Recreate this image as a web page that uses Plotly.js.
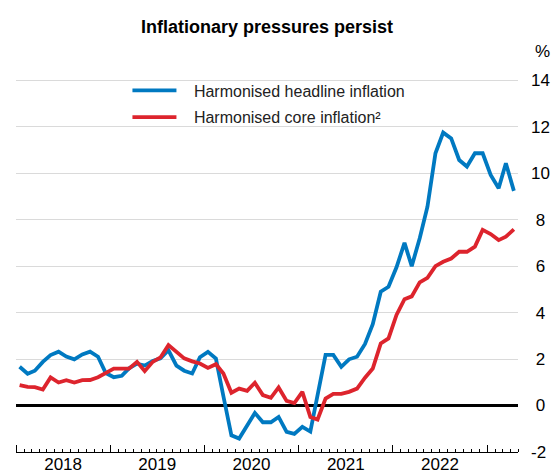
<!DOCTYPE html>
<html>
<head>
<meta charset="utf-8">
<script src="https://cdn.plot.ly/plotly-3.0.1.min.js"></script>
<style>
html,body{margin:0;padding:0;background:#fff;}
#chart{width:554px;height:473px;}
</style>
</head>
<body>
<div id="chart"></div>
<script>
// Monthly observations, Jan 2018 - Apr 2023
const months = [
 '2018-01','2018-02','2018-03','2018-04','2018-05','2018-06','2018-07','2018-08','2018-09','2018-10','2018-11','2018-12',
 '2019-01','2019-02','2019-03','2019-04','2019-05','2019-06','2019-07','2019-08','2019-09','2019-10','2019-11','2019-12',
 '2020-01','2020-02','2020-03','2020-04','2020-05','2020-06','2020-07','2020-08','2020-09','2020-10','2020-11','2020-12',
 '2021-01','2021-02','2021-03','2021-04','2021-05','2021-06','2021-07','2021-08','2021-09','2021-10','2021-11','2021-12',
 '2022-01','2022-02','2022-03','2022-04','2022-05','2022-06','2022-07','2022-08','2022-09','2022-10','2022-11','2022-12',
 '2023-01','2023-02','2023-03','2023-04'
];

const headline = [
 1.67,1.37,1.50,1.88,2.17,2.32,2.11,1.99,2.20,2.32,2.10,1.40,
 1.22,1.28,1.60,1.80,1.72,1.92,2.03,2.38,1.72,1.50,1.38,2.08,
 2.31,2.02,0.40,-1.28,-1.42,-0.85,-0.32,-0.72,-0.72,-0.49,-1.13,-1.22,
 -0.92,-1.12,0.55,2.18,2.18,1.67,1.99,2.10,2.65,3.50,4.90,5.11,
 5.95,7.00,6.00,7.20,8.56,10.86,11.75,11.50,10.57,10.29,10.86,10.86,
 9.93,9.35,10.43,9.24
];

const core = [
 0.88,0.80,0.79,0.69,1.21,0.99,1.09,0.99,1.09,1.10,1.22,1.38,
 1.59,1.59,1.59,1.88,1.48,1.88,2.07,2.60,2.31,2.03,1.90,1.81,
 1.62,1.78,1.38,0.55,0.73,0.63,0.98,0.45,0.33,0.78,0.20,0.11,
 0.59,-0.49,-0.60,0.30,0.50,0.50,0.59,0.73,1.20,1.59,2.67,2.89,
 3.90,4.58,4.70,5.30,5.50,6.00,6.19,6.33,6.62,6.62,6.84,7.56,
 7.38,7.12,7.27,7.58
];

const seriesNames = ['Harmonised headline inflation', 'Harmonised core inflation\u00b2'];
const yTickVals = [-2,0,2,4,6,8,10,12,14];
const yTickText = ['-2','\u20080','\u20082','\u20084','\u20086','\u20088','10','12','14'];

const dates = months.map(m => m + '-15');
const FONT = 'Arial, "Liberation Sans", sans-serif';
const GAP = '\u2002\u2008';

const traces = [
  {x: dates, y: headline, name: GAP + seriesNames[0], legendgroup: 'a', type: 'scatter', mode: 'lines',
   line: {color: 'rgb(0,121,193)', width: 3.8}},
  {x: dates, y: core, name: GAP + seriesNames[1], legendgroup: 'b', type: 'scatter', mode: 'lines',
   line: {color: 'rgb(221,36,45)', width: 3.8}}
];

const layout = {
  width: 554, height: 473,
  margin: {l: 16, r: 36, t: 78, b: 21, pad: 0},
  paper_bgcolor: '#fff', plot_bgcolor: '#fff',
  font: {family: FONT, size: 17, color: '#000'},
  title: {text: '<b>Inflationary pressures persist</b>', font: {family: FONT, size: 18, color: '#000'},
          xref: 'paper', x: 0.5, xanchor: 'center', yref: 'container', y: 0.943, yanchor: 'middle'},
  showlegend: true,
  legend: {x: 0.222, xanchor: 'left', y: 1.012, yanchor: 'top', bgcolor: 'rgba(0,0,0,0)',
           font: {family: FONT, size: 16, color: '#222'}, itemwidth: 44, tracegroupgap: 3,
           traceorder: 'grouped'},
  xaxis: {
    type: 'date', range: ['2018-01-01', '2023-05-01'],
    tick0: '2018-01-01', dtick: 'M12', tickformat: '%Y', ticklabelmode: 'period',
    ticks: 'inside', ticklen: 7, tickwidth: 1, tickcolor: '#000',
    minor: {dtick: 'M1', ticks: 'inside', ticklen: 3, tickwidth: 1, tickcolor: '#000', showgrid: false},
    showgrid: false, zeroline: false,
    showline: true, linecolor: '#000', linewidth: 1.3,
    ticklabelstandoff: -4,
    tickfont: {family: FONT, size: 17, color: '#000'},
    fixedrange: true
  },
  yaxis: {
    side: 'right', range: [-2, 14.1], tickmode: 'array', tickvals: yTickVals, ticktext: yTickText,
    ticks: '', ticklabelstandoff: 12,
    showgrid: true, gridcolor: '#dadada', gridwidth: 1,
    zeroline: true, zerolinecolor: '#000', zerolinewidth: 2.6,
    showline: false,
    tickfont: {family: FONT, size: 17, color: '#000'},
    fixedrange: true
  },
  annotations: [
    {text: '%', xref: 'paper', yref: 'paper', x: 1.049, y: 1.07, xanchor: 'center', yanchor: 'middle',
     showarrow: false, font: {family: FONT, size: 17, color: '#000'}}
  ]
};

Plotly.newPlot('chart', traces, layout, {displayModeBar: false, staticPlot: true});
</script>
</body>
</html>
